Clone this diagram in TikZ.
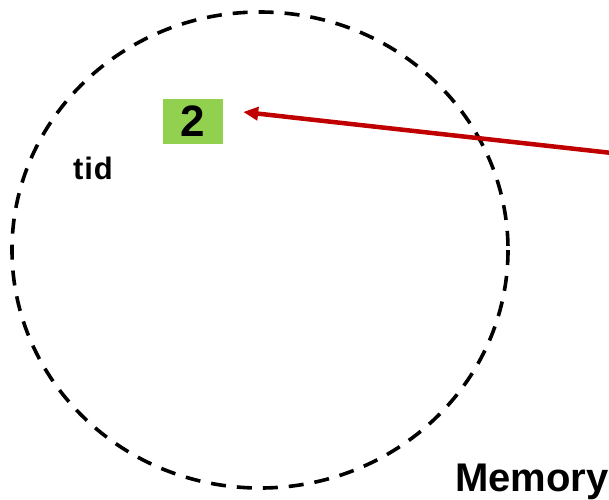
\documentclass[tikz,border=0pt]{standalone}
\usepackage{fontspec}
\setmainfont{Liberation Sans}
\usetikzlibrary{arrows.meta}
\definecolor{idgreen}{RGB}{146,208,80}
\definecolor{ptrred}{RGB}{192,0,0}
\tikzset{
	label/.style = {font=\bfseries},
	idbox/.style = {fill=idgreen, minimum width=60pt, minimum height=45pt, inner sep=0pt, font=\bfseries\fontsize{44}{44}\selectfont},
}
\begin{document}
\begin{tikzpicture}[x=1pt, y=-1pt]
	\useasboundingbox (0,0) rectangle (609,499);
%	\draw[help lines, step=50] (0,0) grid (609,499);
	% address space of the thread
	\draw [line width=3.6pt, dash pattern=on 15pt off 11pt] (260,250) ellipse [x radius=248, y radius=238];
	\node (space) [label, font=\bfseries\fontsize{40}{40}\selectfont, anchor=base east, inner sep=0pt] at (609,491) {Memory};
	\node (tid) [label, font=\bfseries\fontsize{31}{31}\selectfont] at (93,168) {t\kern1pt i\kern1pt d};
	\node (val) [idbox] at (193,121.5) {2};
	% pointer coming in from outside
	\coordinate (src) at (612,153);
	\coordinate (tip) at ([xshift=20pt, yshift=9.5pt]val.east);
	\draw [ptrred, line width=4.5pt, -{Triangle[length=15pt, width=13pt]}] (src) -- (tip);
\end{tikzpicture}
\end{document}
